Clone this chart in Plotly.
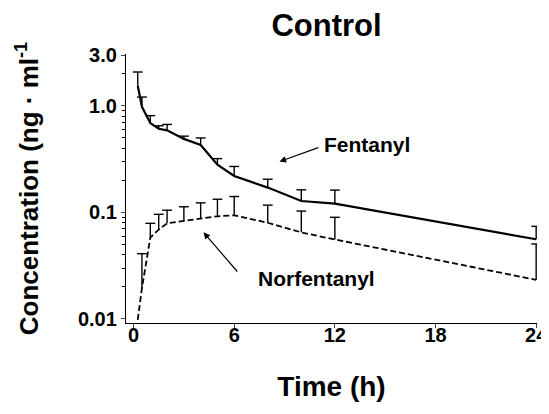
import numpy as np
import plotly.graph_objects as go

# sampling times (h)
time_h = [0.25, 0.5, 1, 1.5, 2, 3, 4, 5, 6, 8, 10, 12, 24]

# fentanyl mean and mean + SD (ng/ml)
fentanyl_mean = [1.55, 0.98, 0.69, 0.61, 0.59, 0.49, 0.43, 0.28, 0.22, 0.171, 0.128, 0.121, 0.056]
fentanyl_upper = [2.08, 1.21, 0.81, 0.65, 0.67, 0.52, 0.50, 0.32, 0.27, 0.205, 0.163, 0.162, 0.074]

# norfentanyl mean and mean + SD (ng/ml)
norfentanyl_mean = [0.0098, 0.0195, 0.058, 0.069, 0.079, 0.083, 0.088, 0.092, 0.094, 0.080, 0.065, 0.0557, 0.0233]
norfentanyl_upper = [None, 0.041, 0.079, 0.096, 0.105, 0.113, 0.123, 0.133, 0.141, 0.117, 0.103, 0.090, 0.0506]

x_ticks = [0, 6, 12, 18, 24]
y_ticks = [0.01, 0.1, 1.0, 3.0]
y_tick_labels = ["0.01", "0.1", "1.0", "3.0"]

FONT = "Liberation Sans, Arial, sans-serif"

# the page body has an 8px margin, so the figure is drawn 8px smaller
W, H = 549 - 8, 414 - 8


def upper_err(mean, upper):
    return [0 if u is None else u - m for m, u in zip(mean, upper)]


fig = go.Figure()

for mean, upper, dash, lw in [
    (fentanyl_mean, fentanyl_upper, "solid", 2.2),
    (norfentanyl_mean, norfentanyl_upper, "6px,3px", 1.8),
]:
    fig.add_trace(
        go.Scatter(
            x=time_h,
            y=mean,
            mode="lines",
            line=dict(color="black", width=lw, dash=dash),
            error_y=dict(
                type="data",
                symmetric=False,
                array=upper_err(mean, upper),
                arrayminus=[0] * len(mean),
                width=0,
                thickness=1.4,
                color="black",
            ),
            showlegend=False,
        )
    )
    # caps on top of the one-sided error bars
    cap_x = [t for t, u in zip(time_h, upper) if u is not None]
    cap_y = [u for u in upper if u is not None]
    fig.add_trace(
        go.Scatter(
            x=cap_x,
            y=cap_y,
            mode="markers",
            marker=dict(symbol="line-ew", size=7, line=dict(color="black", width=1.4)),
            showlegend=False,
        )
    )

ann_font = dict(family=FONT, size=21, color="black", weight="bold")
fig.add_annotation(x=13.9, y=np.log10(0.43), text="Fentanyl", showarrow=False, font=ann_font)
fig.add_annotation(
    x=8.7, y=np.log10(0.30), ax=11.1, ay=np.log10(0.41), axref="x", ayref="y",
    text="", showarrow=True, arrowhead=2, arrowsize=1.1, arrowwidth=1.2, arrowcolor="black",
)
fig.add_annotation(x=10.9, y=np.log10(0.0238), text="Norfentanyl", showarrow=False, font=ann_font)
fig.add_annotation(
    x=4.17, y=np.log10(0.065), ax=6.26, ay=np.log10(0.027), axref="x", ayref="y",
    text="", showarrow=True, arrowhead=2, arrowsize=1.1, arrowwidth=1.2, arrowcolor="black",
)

minor_vals = [0.02, 0.03, 0.04, 0.05, 0.06, 0.07, 0.08, 0.09,
              0.2, 0.3, 0.4, 0.5, 0.6, 0.7, 0.8, 0.9, 2]

fig.update_layout(
    width=W,
    height=H,
    margin=dict(l=118, r=12, t=46, b=91),
    plot_bgcolor="white",
    paper_bgcolor="white",
    title=dict(
        text="Control", x=0.488, xref="paper", y=1 - 17 / H, yanchor="middle",
        xanchor="center", font=dict(family=FONT, size=31, color="black", weight="bold"),
    ),
    xaxis=dict(
        range=[-0.45, 24.05],
        tickvals=x_ticks,
        ticks="outside",
        ticklen=4,
        tickwidth=1.3,
        ticklabelstandoff=-10,
        showline=True,
        linecolor="black",
        linewidth=1.3,
        showgrid=False,
        zeroline=False,
        automargin=False,
        tickfont=dict(family=FONT, size=20, color="black", weight="bold"),
        title=dict(text="Time (h)", standoff=31,
                   font=dict(family=FONT, size=28, color="black", weight="bold")),
    ),
    yaxis=dict(
        type="log",
        range=[-2.038, np.log10(3.0) + 0.01],
        tickvals=y_ticks,
        ticktext=y_tick_labels,
        ticks="outside",
        ticklen=4,
        tickwidth=1.3,
        minor=dict(tickvals=minor_vals, ticks="outside", ticklen=3, tickwidth=1, tickcolor="black"),
        showline=True,
        linecolor="black",
        linewidth=1.3,
        showgrid=False,
        zeroline=False,
        automargin=False,
        tickfont=dict(family=FONT, size=20, color="black", weight="bold"),
        title=dict(text="Concentration (ng · ml<sup>-1</sup>", standoff=31,
                   font=dict(family=FONT, size=26, color="black", weight="bold")),
    ),
)

fig.write_html("out.html")
